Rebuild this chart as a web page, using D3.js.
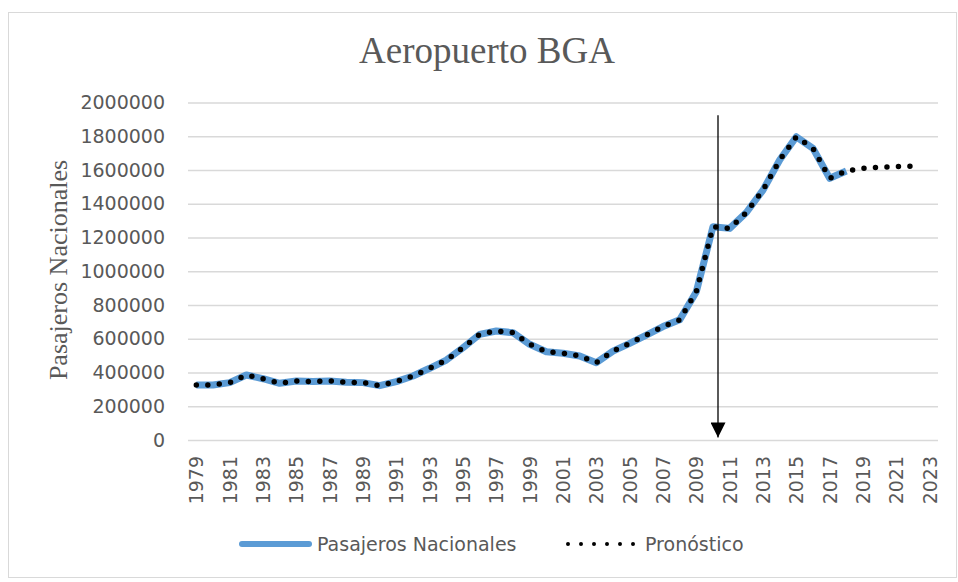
<!DOCTYPE html>
<html>
<head>
<meta charset="utf-8">
<script src="https://cdn.jsdelivr.net/npm/d3@7"></script>
<style>
  body { margin: 0; background: #fff; }
  svg { display: block; }
</style>
</head>
<body>
<div id="container"></div>
<script>
/* CONSTANTS AND GLOBALS */
const width = 958,
  height = 582,
  margin = { top: 102.5, bottom: 142, left: 188, right: 20 }

/* DATA */
const years = d3.range(1979, 2024)
const pasajeros = [
  326000, 326000, 340000, 385000, 363000, 336000, 350000, 346000, 350000, 342000,
  340000, 322000, 346000, 379000, 425000, 474000, 547000, 626000, 646000, 636000,
  567000, 523000, 514000, 498000, 458000, 527000, 573000, 622000, 672000, 712000,
  879000, 1264000, 1254000, 1348000, 1481000, 1659000, 1797000, 1728000, 1551000, 1594000
]
// forecast continues after 2018
const pronosticoExtra = [1610000, 1616000, 1620000, 1622000]
const pronostico = pasajeros.concat(pronosticoExtra)
const yTicks = d3.range(0, 2000001, 200000)
const xTickYears = years.filter((d, i) => i % 2 === 0)
const arrowYear = 2010.3

const histData = pasajeros.map((v, i) => ({ year: years[i], value: v }))
const forecastData = pronostico.map((v, i) => ({ year: years[i], value: v }))

const svg = d3.select("#container")
  .append("svg")
  .attr("width", width)
  .attr("height", height)

// chart frame
svg.append("rect")
  .attr("x", 8.5).attr("y", 12.5)
  .attr("width", 948).attr("height", 565)
  .attr("fill", "#fff")
  .attr("stroke", "#d9d9d9")

const xScale = d3.scaleLinear()
  .domain([1978.5, 2023.5])
  .range([margin.left, 938])

const yScale = d3.scaleLinear()
  .domain([0, 2000000])
  .range([height - margin.bottom, margin.top])

// gridlines + y labels
const yAxis = svg.append("g")
  .attr("transform", `translate(${margin.left},0)`)
  .call(d3.axisLeft(yScale).tickValues(yTicks).tickSize(-(938 - margin.left)).tickPadding(23).tickFormat(d3.format("d")))
yAxis.select(".domain").remove()
yAxis.selectAll("line").attr("stroke", "#d9d9d9").attr("stroke-width", 1.3)
yAxis.selectAll("text")
  .attr("fill", "#595959")
  .style("font-family", "DejaVu Sans, sans-serif")
  .style("font-size", "19px")

// x labels
const xAxis = svg.append("g")
  .attr("transform", `translate(0,${yScale(0)})`)
  .call(d3.axisBottom(xScale).tickValues(xTickYears).tickSize(0).tickFormat(d3.format("d")))
xAxis.select(".domain").remove()
xAxis.selectAll("text")
  .attr("fill", "#595959")
  .style("font-family", "DejaVu Sans, sans-serif")
  .style("font-size", "19px")
  .attr("text-anchor", "end")
  .attr("transform", "rotate(-90)")
  .attr("x", -16)
  .attr("y", 0)
  .attr("dy", "0.35em")

const line = d3.line()
  .x(d => xScale(d.year))
  .y(d => yScale(d.value))

svg.append("path")
  .datum(histData)
  .attr("d", line)
  .attr("fill", "none")
  .attr("stroke", "#5b9bd5")
  .attr("stroke-width", 7)
  .attr("stroke-linejoin", "round")

svg.append("path")
  .datum(forecastData)
  .attr("d", line)
  .attr("fill", "none")
  .attr("stroke", "#000")
  .attr("stroke-width", 5.5)
  .attr("stroke-linecap", "round")
  .attr("stroke-dasharray", "0 11.5")

// arrow annotation
svg.append("defs").append("marker")
  .attr("id", "arrowhead")
  .attr("viewBox", "0 0 10 10")
  .attr("refX", 10).attr("refY", 5)
  .attr("markerWidth", 15).attr("markerHeight", 15)
  .attr("markerUnits", "userSpaceOnUse")
  .attr("orient", "auto")
  .append("path")
  .attr("d", "M0,0 L10,5 L0,10 Z")
  .attr("fill", "#000")

svg.append("line")
  .attr("x1", xScale(arrowYear)).attr("x2", xScale(arrowYear))
  .attr("y1", yScale(1925000)).attr("y2", yScale(15000))
  .attr("stroke", "#000")
  .attr("stroke-width", 1.3)
  .attr("marker-end", "url(#arrowhead)")

// title
svg.append("text")
  .attr("x", 487).attr("y", 63)
  .attr("text-anchor", "middle")
  .attr("fill", "#595959")
  .style("font-family", "Liberation Serif, Times New Roman, serif")
  .style("font-size", "37px")
  .text("Aeropuerto BGA")

// y axis title
svg.append("text")
  .attr("transform", "translate(67,270) rotate(-90)")
  .attr("text-anchor", "middle")
  .attr("fill", "#595959")
  .style("font-family", "Liberation Serif, Times New Roman, serif")
  .style("font-size", "26px")
  .text("Pasajeros Nacionales")

// legend
const legendY = 544
const legend = svg.append("g")
legend.append("line")
  .attr("x1", 242).attr("x2", 309)
  .attr("y1", legendY).attr("y2", legendY)
  .attr("stroke", "#5b9bd5").attr("stroke-width", 6)
  .attr("stroke-linecap", "round")
legend.append("text")
  .attr("x", 317).attr("y", legendY).attr("dy", "0.35em")
  .attr("fill", "#595959")
  .style("font-family", "DejaVu Sans, sans-serif")
  .style("font-size", "19px")
  .text("Pasajeros Nacionales")
legend.append("line")
  .attr("x1", 568).attr("x2", 634)
  .attr("y1", legendY).attr("y2", legendY)
  .attr("stroke", "#000").attr("stroke-width", 4)
  .attr("stroke-linecap", "round")
  .attr("stroke-dasharray", "0 13")
legend.append("text")
  .attr("x", 645).attr("y", legendY).attr("dy", "0.35em")
  .attr("fill", "#595959")
  .style("font-family", "DejaVu Sans, sans-serif")
  .style("font-size", "19px")
  .text("Pronóstico")
</script>
</body>
</html>
